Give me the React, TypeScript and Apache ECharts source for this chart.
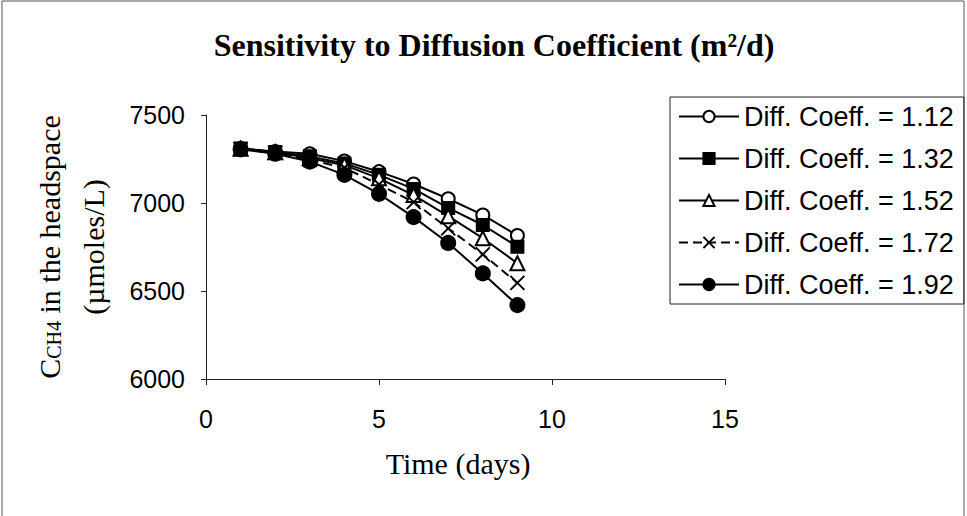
import React, { useEffect, useRef } from "react";
import * as echarts from "echarts";

const days = [1, 2, 3, 4, 5, 6, 7, 8, 9];
const seriesNames = [
  "Diff. Coeff. = 1.12",
  "Diff. Coeff. = 1.32",
  "Diff. Coeff. = 1.52",
  "Diff. Coeff. = 1.72",
  "Diff. Coeff. = 1.92",
];
const coeff112 = [7310, 7292, 7280, 7238, 7178, 7108, 7024, 6932, 6815];
const coeff132 = [7310, 7290, 7265, 7225, 7160, 7080, 6972, 6875, 6752];
const coeff152 = [7308, 7288, 7255, 7215, 7140, 7045, 6925, 6800, 6658];
const coeff172 = [7306, 7285, 7245, 7200, 7105, 7005, 6856, 6708, 6546];
const coeff192 = [7305, 7280, 7235, 7160, 7052, 6920, 6773, 6600, 6420];
const allValues = [coeff112, coeff132, coeff152, coeff172, coeff192];

const xTicks = { min: 0, max: 15, interval: 5 };
const yTicks = { min: 6000, max: 7500, interval: 500 };

const symbols = [
  { symbol: "emptyCircle", size: 13 },
  { symbol: "rect", size: 12 },
  { symbol: "emptyTriangle", size: 14 },
  { symbol: "path://M0,0L10,10M10,0L0,10", size: 14 },
  { symbol: "circle", size: 14 },
];

export default function App() {
  const ref = useRef<HTMLDivElement>(null);
  useEffect(() => {
    if (!ref.current) return;
    const chart = echarts.init(ref.current, null, { renderer: "svg" });
    const serif = "'Liberation Serif', 'Times New Roman', serif";
    const sans = "'Liberation Sans', Arial, sans-serif";
    const series = allValues.map((vals, i) => ({
      type: "line",
      name: seriesNames[i],
      data: days.map((d, j) => [d, vals[j]]),
      symbol: symbols[i].symbol,
      symbolSize: symbols[i].size,
      showAllSymbol: true,
      lineStyle: {
        color: "#000",
        width: 2,
        type: i === 3 ? [9, 5] : "solid",
      },
      itemStyle: {
        color: "#000",
        borderColor: "#000",
        borderWidth: 2,
      },
      emphasis: { disabled: true },
    }));
    chart.setOption({
      animation: false,
      backgroundColor: "#fff",
      grid: { left: 206, right: 242, top: 115, bottom: 137, containLabel: false },
      xAxis: {
        type: "value",
        min: xTicks.min,
        max: xTicks.max,
        interval: xTicks.interval,
        axisLine: { show: true, lineStyle: { color: "#222", width: 1 } },
        axisTick: { show: true, length: 6, lineStyle: { color: "#222" } },
        axisLabel: { fontSize: 25, fontFamily: sans, color: "#000", margin: 27 },
        splitLine: { show: false },
      },
      yAxis: {
        type: "value",
        min: yTicks.min,
        max: yTicks.max,
        interval: yTicks.interval,
        axisLine: { show: true, lineStyle: { color: "#222", width: 1 } },
        axisTick: { show: true, length: 5, lineStyle: { color: "#222" } },
        axisLabel: {
          fontSize: 25,
          fontFamily: sans,
          color: "#000",
          margin: 21,
          formatter: (v: number) => String(v),
        },
        splitLine: { show: false },
      },
      legend: {
        orient: "vertical",
        left: 670,
        top: 97,
        padding: [6, 10, 6, 8],
        itemGap: 15,
        itemWidth: 60,
        itemHeight: 14,
        borderColor: "#222",
        borderWidth: 1,
        textStyle: { fontSize: 27, fontFamily: sans, color: "#000" },
        data: seriesNames,
      },
      graphic: [
        {
          type: "rect",
          shape: { x: 2, y: 1, width: 962, height: 540 },
          style: { fill: "none", stroke: "#555", lineWidth: 1 },
          silent: true,
        },
        {
          type: "text",
          x: 494,
          y: 45,
          style: {
            text: "Sensitivity to Diffusion Coefficient (m²/d)",
            font: `bold 32px ${serif}`,
            fill: "#000",
            align: "center",
            verticalAlign: "middle",
          },
        },
        {
          type: "text",
          x: 49,
          y: 247,
          rotation: Math.PI / 2,
          style: {
            text: "{a|C}{b|CH4}{a| in the headspace}",
            align: "center",
            verticalAlign: "middle",
            fill: "#000",
            rich: {
              a: { fontSize: 30, fontFamily: serif, fill: "#000", verticalAlign: "bottom" },
              b: { fontSize: 20, fontFamily: serif, fill: "#000", verticalAlign: "bottom" },
            },
          },
        },
        {
          type: "text",
          x: 93,
          y: 247,
          rotation: Math.PI / 2,
          style: {
            text: "(µmoles/L)",
            font: `30px ${serif}`,
            fill: "#000",
            align: "center",
            verticalAlign: "middle",
          },
        },
        {
          type: "text",
          x: 458,
          y: 463,
          style: {
            text: "Time (days)",
            font: `30px ${serif}`,
            fill: "#000",
            align: "center",
            verticalAlign: "middle",
          },
        },
      ],
      series,
    });
    return () => chart.dispose();
  }, []);
  return (
    <div
      ref={ref}
      style={{ position: "fixed", left: 0, top: 0, width: 967, height: 516, background: "#fff" }}
    />
  );
}
